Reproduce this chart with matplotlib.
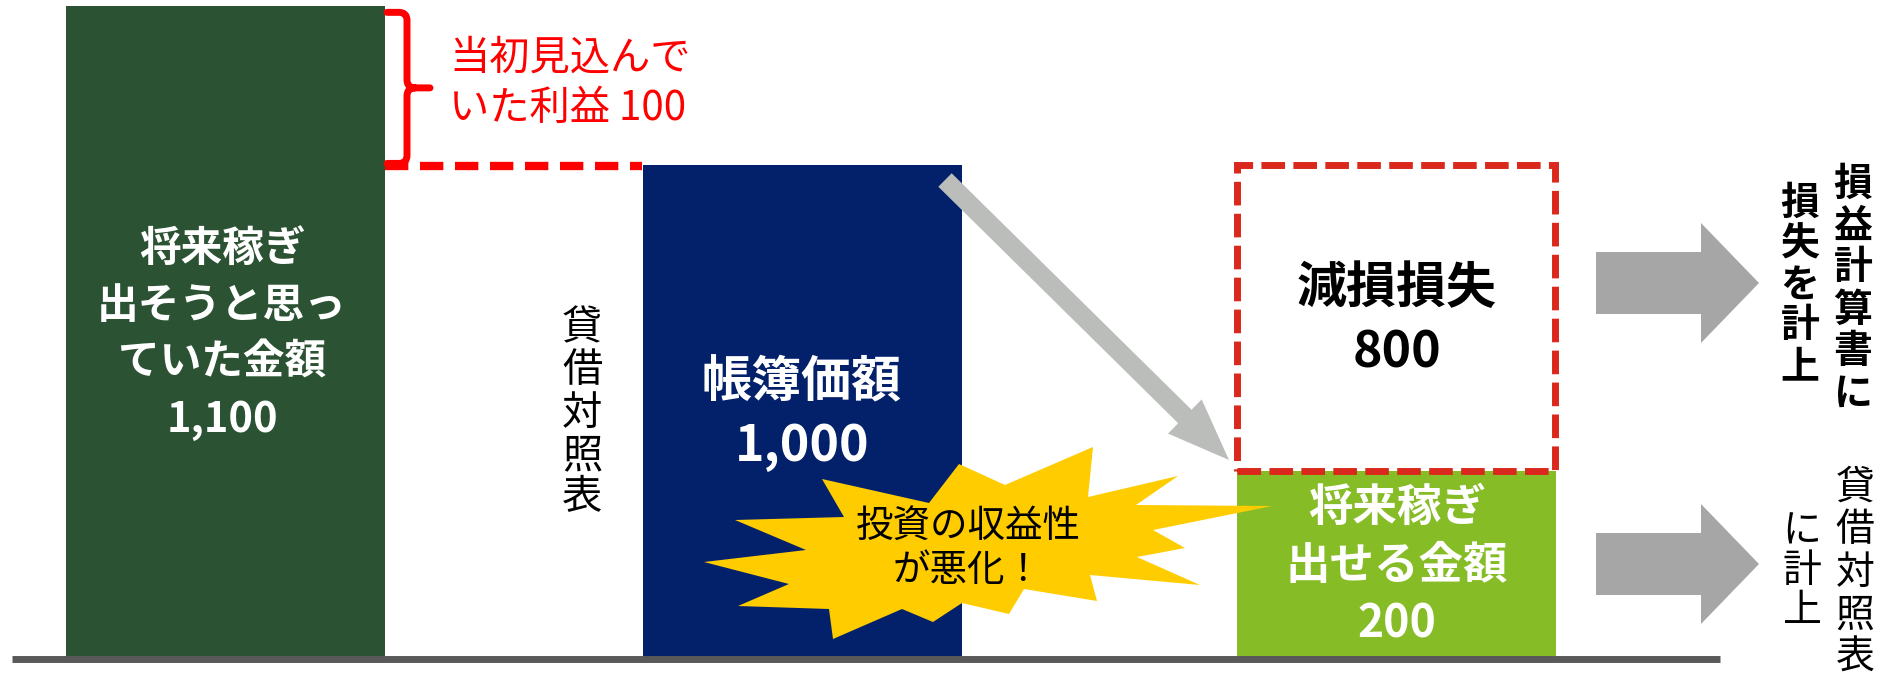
import numpy as np
import matplotlib
matplotlib.use("Agg")
import matplotlib.pyplot as plt
from matplotlib.patches import FancyArrow, PathPatch, Polygon
from matplotlib.path import Path

plt.rcParams["font.family"] = ["Noto Sans CJK JP", "DejaVu Sans"]

# amounts shown in the impairment diagram
bar_labels = ["将来稼ぎ\n出そうと思っ\nていた金額", "帳簿価額", "将来稼ぎ\n出せる金額"]
bar_values = [1100, 1000, 200]
bar_colors = ["#2C5234", "#03216A", "#86BC25"]

loss_label = "減損損失"
loss_value = 800
profit_label = "当初見込んで\nいた利益"
profit_value = 100

side_notes = ["貸借対照表", "損益計算書に\n損失を計上", "貸借対照表\nに計上"]
star_text = "投資の収益性\nが悪化！"

# canvas in pixels
W, H = 1889, 679
BASE = 659  # baseline, px from the top

# the diagram is schematic, so heights are mapped through a piecewise scale
knot_vals = np.array([0, bar_values[2], bar_values[1], bar_values[1] + profit_value], float)
knot_px = np.array([0, 188, 494, 653], float)


def _piecewise(x, xs, ys):
    x = np.asarray(x, float)
    y = np.interp(x, xs, ys)
    lo_slope = (ys[1] - ys[0]) / (xs[1] - xs[0])
    hi_slope = (ys[-1] - ys[-2]) / (xs[-1] - xs[-2])
    y = np.where(x < xs[0], ys[0] + (x - xs[0]) * lo_slope, y)
    y = np.where(x > xs[-1], ys[-1] + (x - xs[-1]) * hi_slope, y)
    return y


def forward(v):
    return _piecewise(v, knot_vals, knot_px)


def inverse(p):
    return _piecewise(p, knot_px, knot_vals)


fig = plt.figure(figsize=(W / 100, H / 100), dpi=100)
ax = fig.add_axes([0, 0, 1, 1])
ax.set_yscale("function", functions=(forward, inverse))
ax.set_xlim(0, W)
ax.set_ylim(float(inverse(-(H - BASE))), float(inverse(BASE)))
ax.axis("off")

centers = [225.5, 802, 1396]
ax.bar(centers, bar_values, width=319, color=bar_colors, zorder=2)

# impairment loss box stacked on the recoverable amount
ax.bar(centers[2], loss_value, bottom=bar_values[2], width=318, fill=False,
       edgecolor="#DA291C", linewidth=5, linestyle=(0, (3.4, 1.2)), zorder=3)

# originally expected profit: dashed level + brace
ax.hlines(bar_values[1] - 3, 385, 642, colors="#FF0000", linewidth=6,
          linestyles=(0, (2.8, 1.4)), zorder=3)

top = bar_values[1] + profit_value - 4
bot = bar_values[1] + 1
mid = (top + bot) / 2
verts = [
    (387, top), (399, top), (407, top), (407, top - 5),
    (407, mid + 5), (407, mid), (415, mid), (430, mid),
    (415, mid), (407, mid), (407, mid - 5),
    (407, bot + 5), (407, bot), (399, bot), (387, bot),
]
codes = [
    Path.MOVETO, Path.LINETO, Path.CURVE3, Path.CURVE3,
    Path.LINETO, Path.CURVE3, Path.CURVE3, Path.LINETO,
    Path.MOVETO, Path.CURVE3, Path.CURVE3,
    Path.LINETO, Path.CURVE3, Path.CURVE3, Path.LINETO,
]
ax.add_patch(PathPatch(Path(verts, codes), fill=False, edgecolor="#FF0000",
                       linewidth=5, capstyle="round", joinstyle="round", zorder=3))

ax.hlines(0, 12, 1720, colors="#595959", linewidth=5, zorder=4)

# overlay in pixel coordinates for arrows, the burst and the text
ov = fig.add_axes([0, 0, 1, 1])
ov.set_xlim(0, W)
ov.set_ylim(H, 0)
ov.axis("off")
ov.patch.set_alpha(0)

ov.add_patch(FancyArrow(945, 180, 284, 280, width=19, head_width=48, head_length=62,
                        length_includes_head=True, color="#BBBDBB", lw=0))
for yc in (283, 564):
    ov.add_patch(FancyArrow(1596, yc, 163, 0, width=62, head_width=120, head_length=58,
                            length_includes_head=True, color="#A6A6A6", lw=0))

burst = [
    (822, 479), (929, 503), (959, 464), (1005, 485), (1093, 447), (1088, 497),
    (1178, 476), (1136, 505), (1272, 506), (1153, 530), (1185, 548), (1137, 557),
    (1200, 585), (1090, 575), (1097, 601), (1024, 589), (1009, 614), (962, 603),
    (933, 622), (902, 609), (833, 639), (829, 609), (738, 606), (789, 584),
    (704, 562), (806, 550), (735, 520), (844, 517),
]
ov.add_patch(Polygon(burst, closed=True, facecolor="#FFCC00", edgecolor="none"))


def stack(x, y0, lines, pitch, **kw):
    for i, s in enumerate(lines):
        ov.text(x, y0 + i * pitch, s, va="center", **kw)


white_bold = dict(color="white", fontweight="bold", ha="center")
stack(222, 249, bar_labels[0].split("\n") + [f"{bar_values[0]:,}"], 57, fontsize=30, **white_bold)
stack(802, 383, bar_labels[1].split("\n") + [f"{bar_values[1]:,}"], 63, fontsize=36, **white_bold)
stack(1397, 508, bar_labels[2].split("\n") + [f"{bar_values[2]:,}"], 58, fontsize=32, **white_bold)
stack(1397, 289, [loss_label, f"{loss_value:,}"], 64, fontsize=36, color="black",
      fontweight="bold", ha="center")

red_lines = profit_label.split("\n")
red_lines[-1] += f" {profit_value}"
stack(449, 58, red_lines, 50, fontsize=29, color="#FF0000", ha="left")

stack(968, 526, star_text.split("\n"), 44, fontsize=27, color="black", ha="center")

# vertical captions, one character per row
stack(582, 328, list(side_notes[0]), 42.5, fontsize=29, color="black", ha="center")
pl_right, pl_left = side_notes[1].split("\n")
stack(1853, 184, list(pl_right), 42, fontsize=28, color="black", fontweight="bold", ha="center")
stack(1800, 203, list(pl_left), 41, fontsize=28, color="black", fontweight="bold", ha="center")
bs_right, bs_left = side_notes[2].split("\n")
stack(1855, 488, list(bs_right), 42.5, fontsize=28, color="black", ha="center")
stack(1802, 531, list(bs_left), 40, fontsize=28, color="black", ha="center")

fig.savefig("out.png", dpi=100)
